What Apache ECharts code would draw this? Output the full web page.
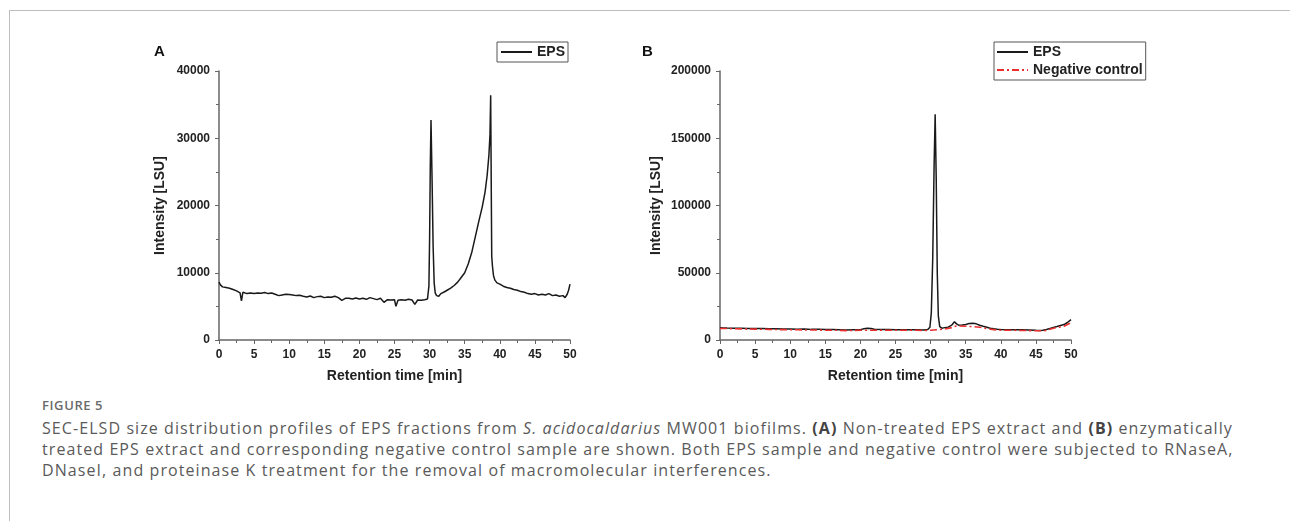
<!DOCTYPE html>
<html>
<head>
<meta charset="utf-8">
<script src="https://cdn.jsdelivr.net/npm/echarts@6/dist/echarts.min.js"></script>
<style>
  html, body { margin: 0; padding: 0; background: #fff; }
  #wrap { position: relative; width: 1290px; height: 521px; overflow: hidden; }
  #frameTop { position: absolute; left: 9px; top: 10px; width: 1281px; height: 0; border-top: 1px solid #bdbdbd; }
  #frameLeft { position: absolute; left: 9px; top: 10px; width: 0; height: 511px; border-left: 1px solid #bdbdbd; }
  #chart { position: absolute; left: 0; top: 0; width: 1290px; height: 390px; }
  #cap { position: absolute; left: 42px; top: 395px; width: 1245px; font-family: "Open Sans", sans-serif; color: #5a5a5a; }
  #cap .fig { font-size: 13px; font-weight: 600; color: #6a6a6a; line-height: 20px; letter-spacing: 0.6px; }
  #cap .txt { font-size: 16px; line-height: 21px; margin-top: 3px; white-space: nowrap; letter-spacing: 1.08px; }
  #cap b { font-weight: 700; color: #444; }
</style>
</head>
<body>
<div id="wrap">
  <div id="frameTop"></div>
  <div id="frameLeft"></div>
  <div id="chart"></div>
  <div id="cap">
    <div class="fig">FIGURE 5</div>
    <div class="txt">SEC-ELSD size distribution profiles of EPS fractions from <i>S. acidocaldarius</i> MW001 biofilms. <b>(A)</b> Non-treated EPS extract and <b>(B)</b> enzymatically<br>treated EPS extract and corresponding negative control sample are shown. Both EPS sample and negative control were subjected to RNaseA,<br>DNaseI, and proteinase K treatment for the removal of macromolecular interferences.</div>
  </div>
</div>
<script>
// ---------- Data ----------
const xTicks = [0, 5, 10, 15, 20, 25, 30, 35, 40, 45, 50];

// Panel A: non-treated EPS
const timeA = [0,0.2,0.5,1.0,1.5,2.0,2.5,3.0,3.2,3.4,4.0,4.5,5.0,5.5,6.0,6.5,7.0,7.5,8.0,8.5,9.0,9.5,10.0,10.5,11.0,11.5,12.0,12.5,13.0,13.5,14.0,14.5,15.0,15.5,16.0,16.5,17.0,17.5,18.0,18.5,19.0,19.5,20.0,20.5,21.0,21.5,22.0,22.5,23.0,23.5,24.0,24.5,25.0,25.2,25.5,26.0,26.5,27.0,27.5,27.9,28.3,28.8,29.3,29.7,29.9,30.0,30.1,30.2,30.35,30.5,30.65,30.8,31.0,31.3,31.6,32.0,32.5,33.0,33.5,34.0,34.5,35.0,35.5,36.0,36.5,37.0,37.5,37.9,38.2,38.45,38.6,38.7,38.8,38.85,38.95,39.1,39.3,39.6,40.0,40.5,41.0,41.5,42.0,42.5,43.0,43.5,44.0,44.5,45.0,45.5,46.0,46.5,47.0,47.5,48.0,48.5,49.0,49.3,49.6,49.8,50.0];
const epsA = [8600,8200,7900,7800,7700,7500,7300,7000,5800,7100,6900,7000,6900,7000,6950,7050,6900,7000,6800,6600,6700,6800,6750,6700,6600,6650,6500,6400,6550,6300,6450,6500,6300,6400,6350,6500,6300,5900,6200,6200,6100,6250,6100,6200,6050,6300,6150,6000,6200,5600,6000,5950,6000,5000,5900,6000,5900,6050,5950,5300,5950,5900,6000,6100,8000,15000,26000,32700,24000,14000,8500,7000,6600,6500,6900,7100,7400,7700,8100,8600,9300,10000,11300,13000,15300,17600,19800,22000,24500,27500,30500,36400,20000,12500,11000,9600,8900,8500,8300,8000,7800,7700,7500,7400,7200,7100,6900,6800,6900,6700,6800,6700,6900,6600,6700,6500,6600,6300,6800,7400,8300];

// Panel B: enzymatically treated EPS
const timeB = [0,0.5,1,2,3,4,5,6,7,8,9,10,11,12,13,14,15,16,17,18,19,20,20.5,21,21.5,22,23,24,25,26,27,28,29,29.6,29.9,30.1,30.3,30.5,30.65,30.8,30.95,31.1,31.3,31.6,32,32.5,33,33.4,33.7,34,34.5,35,35.5,36,36.5,37,37.5,38,38.5,39,39.5,40,41,42,43,44,45,45.5,46,46.5,47,47.5,48,48.5,49,49.5,50];
const epsB = [9200,9000,8900,8800,8700,8600,8500,8600,8300,8400,8200,8100,8000,8100,7900,7900,7800,7800,7700,7500,7600,7700,8300,8700,8500,8000,7800,7800,7700,7700,7700,7600,7500,7800,9500,20000,60000,130000,167800,120000,50000,18000,10000,8800,9200,9500,11000,13500,12000,11000,11200,11500,12200,12500,12000,11000,10200,9500,8800,8300,8000,7800,7700,7700,7600,7500,7200,7100,7300,7800,8500,9300,10000,10800,11500,13000,15200];

// Panel B: negative control
const timeNC = [0,1,2,3,4,5,6,7,8,9,10,11,12,13,14,15,16,17,18,19,20,21,22,23,24,25,26,27,28,29,30,31,32,33,33.5,34,35,36,37,38,39,40,41,42,43,44,45,46,46.5,47,47.5,48,49,49.5,50];
const negCtrl = [8600,8500,8400,8300,8200,8100,8000,7900,7800,7700,7600,7600,7500,7400,7400,7300,7300,7200,7000,7100,7200,7300,7300,7300,7300,7300,7200,7200,7200,7000,7300,7600,8200,9200,10200,10500,10200,10000,9500,8500,7700,7300,7200,7200,7100,7000,6900,6800,7200,8000,8800,9300,10200,11500,12800];

const pair = (xs, ys) => xs.map((x, i) => [x, ys[i]]);

// ---------- Chart ----------
const chart = echarts.init(document.getElementById('chart'), null, { renderer: 'canvas' });
const FONT = 'Liberation Sans';
const axisCol = '#666';
const textCol = '#222';

function xAx(gi) {
  return {
    type: 'value', gridIndex: gi, min: 0, max: 50, interval: 5,
    name: 'Retention time [min]', nameLocation: 'middle', nameGap: 29,
    nameTextStyle: { fontFamily: FONT, fontWeight: 'bold', fontSize: 14, color: textCol },
    axisLine: { show: true, onZero: false, lineStyle: { color: axisCol, width: 1.5 } },
    axisTick: { show: true, inside: false, length: 4, lineStyle: { color: axisCol, width: 1 } },
    minorTick: { show: true, splitNumber: 2, length: 3, lineStyle: { color: axisCol, width: 1 } },
    axisLabel: { fontFamily: FONT, fontWeight: 'bold', fontSize: 12, color: textCol, margin: 9,
                 formatter: v => String(v) },
    splitLine: { show: false }
  };
}
function yAx(gi, max, iv, gap) {
  return {
    type: 'value', gridIndex: gi, min: 0, max: max, interval: iv,
    name: 'Intensity [LSU]', nameLocation: 'middle', nameGap: gap, nameRotate: 90,
    nameTextStyle: { fontFamily: FONT, fontWeight: 'bold', fontSize: 14, color: textCol },
    axisLine: { show: true, onZero: false, lineStyle: { color: axisCol, width: 1.5 } },
    axisTick: { show: true, inside: false, length: 4, lineStyle: { color: axisCol, width: 1 } },
    minorTick: { show: true, splitNumber: 2, length: 3, lineStyle: { color: axisCol, width: 1 } },
    axisLabel: { fontFamily: FONT, fontWeight: 'bold', fontSize: 12, color: textCol, margin: 9,
                 formatter: v => String(v) },
    splitLine: { show: false }
  };
}

const legendCommon = {
  orient: 'vertical', itemWidth: 31, itemHeight: 14, itemGap: 4,
  borderColor: '#555', borderWidth: 1, borderRadius: 0,
  itemStyle: { opacity: 0 },
  textStyle: { fontFamily: FONT, fontWeight: 'bold', fontSize: 14, color: textCol }
};

const option = {
  animation: false,
  backgroundColor: 'transparent',
  grid: [
    { left: 219, top: 71, width: 351, height: 269 },
    { left: 720, top: 71, width: 351, height: 269 }
  ],
  xAxis: [xAx(0), xAx(1)],
  yAxis: [yAx(0, 40000, 10000, 52), yAx(1, 200000, 50000, 57)],
  legend: [
    Object.assign({}, legendCommon, { data: ['EPS'], left: 497, top: 42, padding: [3, 3, 3, 3] }),
    Object.assign({}, legendCommon, { data: ['EPS ', 'Negative control'], left: 994, top: 42, padding: [3, 3, 3, 2] })
  ],
  graphic: [
    { type: 'text', left: 154, top: 44, style: { text: 'A', fontFamily: FONT, fontWeight: 'bold', fontSize: 15, fill: '#111' } },
    { type: 'text', left: 642, top: 44, style: { text: 'B', fontFamily: FONT, fontWeight: 'bold', fontSize: 15, fill: '#111' } }
  ],
  series: [
    {
      name: 'EPS', type: 'line', xAxisIndex: 0, yAxisIndex: 0,
      data: pair(timeA, epsA), showSymbol: false, symbol: 'none',
      lineStyle: { color: '#1a1a1a', width: 1.5 }, itemStyle: { color: '#1a1a1a' }
    },
    {
      name: 'EPS ', type: 'line', xAxisIndex: 1, yAxisIndex: 1,
      data: pair(timeB, epsB), showSymbol: false, symbol: 'none',
      lineStyle: { color: '#1a1a1a', width: 1.5 }, itemStyle: { color: '#1a1a1a' }
    },
    {
      name: 'Negative control', type: 'line', xAxisIndex: 1, yAxisIndex: 1,
      data: pair(timeNC, negCtrl), showSymbol: false, symbol: 'none',
      lineStyle: { color: '#e8302f', width: 1.6, type: [7, 3, 2, 3] }, itemStyle: { color: '#e8302f' }
    }
  ]
};
chart.setOption(option);
</script>
</body>
</html>
